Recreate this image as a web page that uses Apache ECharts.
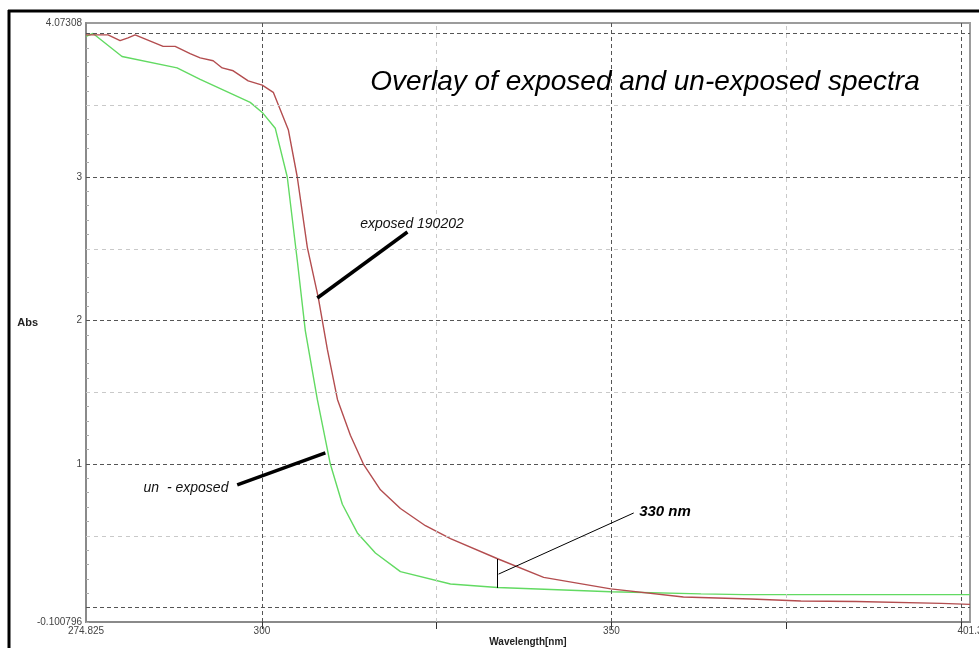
<!DOCTYPE html>
<html>
<head>
<meta charset="utf-8">
<title>Overlay of exposed and un-exposed spectra</title>
<script src="https://cdn.jsdelivr.net/npm/echarts@6/dist/echarts.min.js"></script>
<style>
  html, body { margin: 0; padding: 0; background: #fff; }
  #chart { width: 979px; height: 648px; }
</style>
</head>
<body>
<div id="chart"></div>
<script>
(function () {
  'use strict'

  // exposed 190202 (red trace): wavelength [nm] and absorbance
  const exposedWavelength = [
    274.825, 277.98, 279.7, 280.84, 281.85, 285.86, 287.58, 289.72, 291.16, 293.02,
    294.31, 295.89, 298.03, 300.04, 301.62, 303.77, 305.05, 306.49, 308.06, 309.35,
    310.8, 312.65, 314.51, 316.95, 319.81, 323.39, 326.97, 333.71, 340.3, 349.9,
    360.3, 369.95, 377.1, 385.0, 385.2, 397.2, 397.4, 401.3
  ]
  const exposedAbs = [
    3.99, 3.99, 3.95, 3.97, 3.99, 3.91, 3.91, 3.86, 3.83, 3.81,
    3.76, 3.74, 3.67, 3.64, 3.59, 3.33, 3.0, 2.51, 2.16, 1.80,
    1.45, 1.2, 1.0, 0.82, 0.69, 0.57, 0.48, 0.34, 0.21, 0.13,
    0.073, 0.059, 0.046, 0.042, 0.031, 0.029, 0.024, 0.022
  ]

  // un-exposed (green trace)
  const unexposedWavelength = [
    274.825, 275.83, 279.98, 287.86, 291.16, 298.32, 300.04, 301.9, 303.62, 305.05,
    306.2, 307.92, 309.78, 311.5, 313.65, 316.23, 319.81, 326.97, 333.71, 349.9,
    362.8, 369.0, 401.3
  ]
  const unexposedAbs = [
    3.98, 4.0, 3.84, 3.76, 3.68, 3.52, 3.45, 3.34, 3.0, 2.42,
    1.93, 1.45, 1.0, 0.72, 0.52, 0.38, 0.25, 0.164, 0.14, 0.11,
    0.095, 0.09, 0.09
  ]

  const xTickValues = [274.825, 300, 350, 401.3]
  const xTickLabels = ['274.825', '300', '350', '401.3']
  const yTickValues = [-0.100796, 1, 2, 3, 4.07308]
  const yTickLabels = ['-0.100796', '1', '2', '3', '4.07308']

  const xMajorGrid = [300, 350, 400]
  const xMinorGrid = [325, 375]
  const yMajorGrid = [0, 1, 2, 3, 4]
  const yMinorGrid = [0.5, 1.5, 2.5, 3.5]
  const xTicks = [300, 325, 350, 375, 400]
  const yMinorTicks = []
  for (let i = -1; i <= 40; i++) yMinorTicks.push(i / 10)

  // annotation leader lines, in data coordinates
  const exposedPointer = [[320.81, 2.617], [307.92, 2.157]]
  const unexposedPointer = [[296.46, 0.854], [309.07, 1.077]]
  const marker330 = [[333.71, 0.338], [333.71, 0.136]]
  const marker330Leader = [[333.85, 0.233], [353.19, 0.659]]

  const FONT = '"Liberation Sans", Arial, sans-serif'
  const RED = '#b34d4f'
  const GREEN = '#62da62'

  function zip (xs, ys) {
    return xs.map((x, i) => [x, ys[i]])
  }

  function pickLabel (values, labels) {
    return v => {
      const i = values.findIndex(t => Math.abs(t - v) < 1e-6)
      return i >= 0 ? labels[i] : ''
    }
  }

  function gridLine (axis, value, major) {
    return {
      [axis]: value,
      lineStyle: major
        ? { color: '#555', width: 1, type: [4, 3] }
        : { color: '#c9c9c9', width: 1, type: [4, 4] }
    }
  }

  function leader (pair, width) {
    return [
      { coord: pair[0], lineStyle: { color: '#000', width, type: 'solid' } },
      { coord: pair[1] }
    ]
  }

  const chart = echarts.init(document.getElementById('chart'), null, { renderer: 'canvas' })

  chart.setOption({
    animation: false,
    backgroundColor: '#fff',
    grid: {
      left: 86,
      right: 9,
      top: 23,
      bottom: 26,
      show: true,
      borderColor: '#9c9c9c',
      borderWidth: 2,
      outerBoundsMode: 'none'
    },
    xAxis: {
      type: 'value',
      min: 274.825,
      max: 401.3,
      name: 'Wavelength[nm]',
      nameLocation: 'middle',
      nameGap: 15,
      nameMoveOverlap: false,
      nameTextStyle: { fontFamily: FONT, fontWeight: 'bold', fontSize: 10, color: '#222' },
      axisLine: { show: true, onZero: false, lineStyle: { color: '#8a8a8a', width: 2 } },
      axisTick: { show: true, customValues: xTicks, length: 7, lineStyle: { color: '#333' } },
      axisLabel: {
        customValues: xTickValues,
        formatter: pickLabel(xTickValues, xTickLabels),
        fontFamily: FONT,
        fontSize: 10,
        color: '#444',
        margin: 4
      },
      splitLine: { show: false }
    },
    yAxis: {
      type: 'value',
      min: -0.100796,
      max: 4.07308,
      name: 'Abs',
      nameLocation: 'middle',
      nameRotate: 0,
      nameGap: 48,
      nameMoveOverlap: false,
      nameTextStyle: { fontFamily: FONT, fontWeight: 'bold', fontSize: 11, color: '#222' },
      axisLine: { show: true, onZero: false, lineStyle: { color: '#8a8a8a', width: 2 } },
      axisTick: { show: true, inside: true, customValues: yMinorTicks, length: 3, lineStyle: { color: '#aaa' } },
      axisLabel: {
        customValues: yTickValues,
        formatter: pickLabel(yTickValues, yTickLabels),
        fontFamily: FONT,
        fontSize: 10,
        color: '#444',
        margin: 4
      },
      splitLine: { show: false }
    },
    graphic: [
      { type: 'line', z: 20, shape: { x1: 8, y1: 11, x2: 979, y2: 11 }, style: { stroke: '#000', lineWidth: 3 } },
      { type: 'line', z: 20, shape: { x1: 9, y1: 10, x2: 9, y2: 648 }, style: { stroke: '#000', lineWidth: 3 } },
      // white boxes behind the annotation texts
      { type: 'rect', z: 5, shape: { x: 363, y: 66, width: 568, height: 46 }, style: { fill: '#fff' } },
      { type: 'rect', z: 5, shape: { x: 355, y: 212, width: 116, height: 22 }, style: { fill: '#fff' } },
      { type: 'rect', z: 5, shape: { x: 138, y: 467, width: 128, height: 43 }, style: { fill: '#fff' } },
      { type: 'rect', z: 5, shape: { x: 635, y: 500, width: 78, height: 40 }, style: { fill: '#fff' } },
      {
        type: 'text', z: 6, x: 645, y: 82,
        style: { text: 'Overlay of exposed and un-exposed spectra', font: 'italic 28px ' + FONT, fill: '#000', align: 'center', verticalAlign: 'middle' }
      },
      {
        type: 'text', z: 6, x: 412, y: 224,
        style: { text: 'exposed 190202', font: 'italic 14px ' + FONT, fill: '#111', align: 'center', verticalAlign: 'middle' }
      },
      {
        type: 'text', z: 6, x: 186, y: 488,
        style: { text: 'un  - exposed', font: 'italic 14px ' + FONT, fill: '#111', align: 'center', verticalAlign: 'middle' }
      },
      {
        type: 'text', z: 6, x: 665, y: 512,
        style: { text: '330 nm', font: 'italic bold 15px ' + FONT, fill: '#000', align: 'center', verticalAlign: 'middle' }
      }
    ],
    series: [
      {
        name: 'grid',
        type: 'line',
        z: 1,
        data: [],
        silent: true,
        markLine: {
          silent: true,
          symbol: ['none', 'none'],
          label: { show: false },
          emphasis: { disabled: true },
          data: [
            ...yMinorGrid.map(v => gridLine('yAxis', v, false)),
            ...xMinorGrid.map(v => gridLine('xAxis', v, false)),
            ...yMajorGrid.map(v => gridLine('yAxis', v, true)),
            ...xMajorGrid.map(v => gridLine('xAxis', v, true))
          ]
        }
      },
      {
        name: 'un-exposed',
        type: 'line',
        z: 3,
        showSymbol: false,
        lineStyle: { color: GREEN, width: 1.4 },
        itemStyle: { color: GREEN },
        data: zip(unexposedWavelength, unexposedAbs)
      },
      {
        name: 'exposed 190202',
        type: 'line',
        z: 4,
        showSymbol: false,
        lineStyle: { color: RED, width: 1.4 },
        itemStyle: { color: RED },
        data: zip(exposedWavelength, exposedAbs)
      },
      {
        name: 'annotations',
        type: 'line',
        z: 8,
        data: [],
        silent: true,
        markLine: {
          silent: true,
          symbol: ['none', 'none'],
          label: { show: false },
          emphasis: { disabled: true },
          data: [
            leader(exposedPointer, 3.5),
            leader(unexposedPointer, 3.5),
            leader(marker330, 1),
            leader(marker330Leader, 1)
          ]
        }
      }
    ]
  })
})()
</script>
</body>
</html>
